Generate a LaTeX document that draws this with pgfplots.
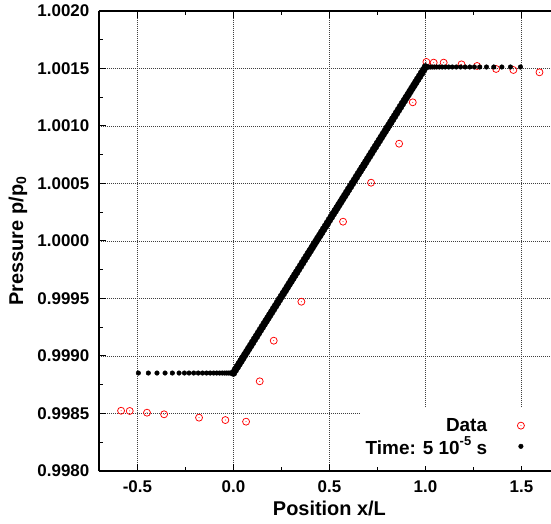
\documentclass[border=0pt]{standalone}
\usepackage{pgfplots}
\pgfplotsset{compat=1.18}
\usepackage{fontspec}
\setmainfont{Liberation Sans}
\definecolor{datared}{RGB}{255,0,0}
\pgfdeclareplotmark{odot}{%
  \pgfpathcircle{\pgfpointorigin}{\pgfplotmarksize}\pgfusepathqstroke
  \pgfpathcircle{\pgfpointorigin}{0.5bp}\pgfusepathqfill}
\pgfplotsset{dotlegend/.style={legend image code/.code={%
  \draw[##1] plot coordinates {(0.3cm,0cm)};
  \path (0cm,0cm) (1.2cm,0cm);}}}
\begin{document}
\begin{tikzpicture}
\useasboundingbox (-99bp,-53bp) rectangle (452bp,471bp);
\begin{axis}[
  width=452bp, height=460bp, scale only axis,
  xmin=-0.7, xmax=1.654, ymin=0.998, ymax=1.002,
  axis x line*=box, axis y line*=left,
  axis line style={line width=2.2bp, black},
  xtick={-0.5,0,0.5,1,1.5},
  xticklabels={-0.5,0.0,0.5,1.0,1.5},
  minor xtick={-0.25,0.25,0.75,1.25},
  ytick={0.998,0.9985,0.999,0.9995,1,1.0005,1.001,1.0015,1.002},
  yticklabels={0.9980,0.9985,0.9990,0.9995,1.0000,1.0005,1.0010,1.0015,1.0020},
  minor ytick={0.99825,0.99875,0.99925,0.99975,1.00025,1.00075,1.00125,1.00175},
  tick align=inside,
  major tick length=7bp, minor tick length=4bp,
  every tick/.style={black, line width=1bp},
  grid=major,
  major grid style={black!75, line width=0.8bp, dash pattern=on 0.8bp off 1.2bp},
  tick label style={font=\fontsize{17}{20}\selectfont\bfseries},
  xticklabel style={anchor=base, yshift=-21bp, inner sep=0pt},
  yticklabel style={anchor=east, inner sep=0pt, xshift=-9.5bp},
  xlabel={Position x/L},
  ylabel={Pressure p/p\textsubscript{0}},
  every axis x label/.style={at={(axis description cs:0.5098,-0.0978)}, anchor=base,
    font=\fontsize{20}{24}\selectfont\bfseries},
  every axis y label/.style={at={(axis description cs:-0.168,0.5)}, rotate=90, anchor=base,
    font=\fontsize{20}{24}\selectfont\bfseries},
  legend cell align=right,
  legend plot pos=right,
  legend style={at={(axis description cs:1,0.0109)}, anchor=south east,
    draw=none, fill=white, inner xsep=4bp, inner ysep=8bp,
    column sep=23bp,
    font=\fontsize{19}{22}\selectfont\bfseries},
]
% Data (red circles)
\addplot[only marks, mark=odot, mark size=3.5bp, datared, line width=0.75bp,
  mark options={fill=datared}, dotlegend] coordinates {
(-0.585,0.998524) (-0.540,0.998522) (-0.450,0.998507) (-0.361,0.998493)
(-0.179,0.998464) (-0.042,0.998443) (0.066,0.998429) (0.137,0.998780)
(0.210,0.999133) (0.354,0.999472) (0.571,1.000168) (0.717,1.000507)
(0.863,1.000846) (0.934,1.001206) (1.005,1.001557) (1.043,1.001551)
(1.095,1.001551) (1.188,1.001536) (1.269,1.001522) (1.368,1.001496)
(1.458,1.001487) (1.594,1.001467)
};
\addlegendentry{Data}
% Simulation (black dots)
\addplot[only marks, mark=*, mark size=2.3bp, black, dotlegend] coordinates {
(-0.495,0.998852) (-0.443,0.998852) (-0.398,0.998852) (-0.356,0.998852)
(-0.318,0.998852) (-0.283,0.998852) (-0.255,0.998852) (-0.231,0.998852)
(-0.207,0.998852) (-0.183,0.998852) (-0.161,0.998852) (-0.140,0.998852)
(-0.121,0.998852) (-0.103,0.998852) (-0.087,0.998852) (-0.072,0.998852)
(-0.058,0.998852) (-0.046,0.998852) (-0.035,0.998852) (-0.025,0.998852)
(-0.016,0.998852) (-0.008,0.998852) (0.000,0.998852)
(1.000,1.001513) (1.008,1.001513) (1.016,1.001513) (1.025,1.001513)
(1.035,1.001513) (1.046,1.001513) (1.058,1.001513) (1.072,1.001513)
(1.087,1.001513) (1.103,1.001513) (1.121,1.001513) (1.140,1.001513)
(1.161,1.001513) (1.183,1.001513) (1.207,1.001513) (1.231,1.001513)
(1.255,1.001513) (1.283,1.001513) (1.318,1.001513) (1.356,1.001513)
(1.398,1.001513) (1.443,1.001513) (1.495,1.001513)
};
\addlegendentry{Time: 5 10\raisebox{0.45em}{\fontsize{13}{13}\selectfont -5} s}
\addplot[only marks, mark=*, mark size=3.6bp, black, forget plot] coordinates {
(0.00,0.998852) (0.01,0.998879) (0.02,0.998905) (0.03,0.998932) (0.04,0.998958)
(0.05,0.998985) (0.06,0.999012) (0.07,0.999038) (0.08,0.999065) (0.09,0.999091)
(0.10,0.999118) (0.11,0.999145) (0.12,0.999171) (0.13,0.999198) (0.14,0.999225)
(0.15,0.999251) (0.16,0.999278) (0.17,0.999304) (0.18,0.999331) (0.19,0.999358)
(0.20,0.999384) (0.21,0.999411) (0.22,0.999437) (0.23,0.999464) (0.24,0.999491)
(0.25,0.999517) (0.26,0.999544) (0.27,0.999570) (0.28,0.999597) (0.29,0.999624)
(0.30,0.999650) (0.31,0.999677) (0.32,0.999704) (0.33,0.999730) (0.34,0.999757)
(0.35,0.999783) (0.36,0.999810) (0.37,0.999837) (0.38,0.999863) (0.39,0.999890)
(0.40,0.999916) (0.41,0.999943) (0.42,0.999970) (0.43,0.999996) (0.44,1.000023)
(0.45,1.000049) (0.46,1.000076) (0.47,1.000103) (0.48,1.000129) (0.49,1.000156)
(0.50,1.000183) (0.51,1.000209) (0.52,1.000236) (0.53,1.000262) (0.54,1.000289)
(0.55,1.000316) (0.56,1.000342) (0.57,1.000369) (0.58,1.000395) (0.59,1.000422)
(0.60,1.000449) (0.61,1.000475) (0.62,1.000502) (0.63,1.000528) (0.64,1.000555)
(0.65,1.000582) (0.66,1.000608) (0.67,1.000635) (0.68,1.000661) (0.69,1.000688)
(0.70,1.000715) (0.71,1.000741) (0.72,1.000768) (0.73,1.000795) (0.74,1.000821)
(0.75,1.000848) (0.76,1.000874) (0.77,1.000901) (0.78,1.000928) (0.79,1.000954)
(0.80,1.000981) (0.81,1.001007) (0.82,1.001034) (0.83,1.001061) (0.84,1.001087)
(0.85,1.001114) (0.86,1.001140) (0.87,1.001167) (0.88,1.001194) (0.89,1.001220)
(0.90,1.001247) (0.91,1.001273) (0.92,1.001300) (0.93,1.001327) (0.94,1.001353)
(0.95,1.001380) (0.96,1.001407) (0.97,1.001433) (0.98,1.001460) (0.99,1.001486)
(1.00,1.001513)
};
\end{axis}
\end{tikzpicture}
\end{document}
